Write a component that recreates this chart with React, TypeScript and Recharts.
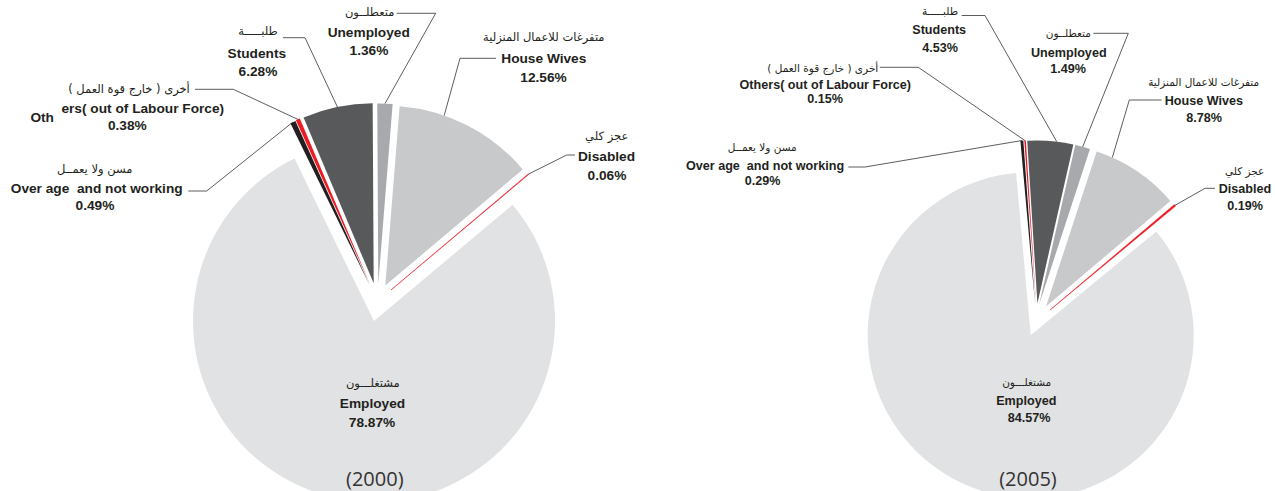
import React from 'react';
import { PieChart, Pie, Cell } from 'recharts';

// ---------- data ----------
const categories = [
  'Disabled',
  'House Wives',
  'Unemployed',
  'Students',
  'Others( out of Labour Force)',
  'Over age  and not working',
  'Employed',
];
const arabicNames = [
  'عجز كلي',
  'متفرغات للاعمال المنزلية',
  'متعطلــون',
  'طلبـــــة',
  'أخرى ( خارج قوة العمل )',
  'مسن ولا يعمــل',
  'مشتغلـــون',
];
const values2000 = [0.06, 12.56, 1.36, 6.28, 0.38, 0.49, 78.87];
const values2005 = [0.19, 8.78, 1.49, 4.53, 0.15, 0.29, 84.57];
const yearLabels = ['(2000)', '(2005)'];

// ---------- styles / layout ----------
const colors = ['#ed1c24', '#c8c9cb', '#a7a9ac', '#58595b', '#ed1c24', '#231f20', '#e1e2e3'];
const textColor = '#231f20';

type Pt = [number, number];
interface LabelCfg {
  ar?: Pt;
  en: Pt;
  pct: Pt;
  leader?: Pt[];
  anchorAngle?: number;
  split?: { n: number; at: Pt };
  year?: Pt;
}
interface ChartCfg {
  start: number;
  centers: Pt[];
  radii: number[];
  enSize: number;
  arSize: number;
  labels: LabelCfg[];
}

const cfg2000: ChartCfg = {
  start: 40,
  centers: [
    [391, 290],
    [385.3, 285.6],
    [378.3, 283.5],
    [373.7, 283.3],
    [370, 284.3],
    [369.5, 285],
    [374, 321],
  ],
  radii: [180, 180, 180, 180, 180, 180, 181],
  enSize: 13.7,
  arSize: 11.5,
  labels: [
    { ar: [606.7, 140], en: [606.5, 161], pct: [607, 180], leader: [[575, 155], [566.7, 155]] },
    { ar: [543.8, 41], en: [543.8, 63.3], pct: [543.5, 81.7], leader: [[496, 58.3], [460, 58.3]], anchorAngle: 70.9 },
    { ar: [369.7, 16], en: [368.7, 36.7], pct: [369, 55], leader: [[396.7, 13.3], [435.7, 13.3]] },
    { ar: [258, 35], en: [256.8, 57.7], pct: [258, 76], leader: [[283, 37.7], [305, 37.7]] },
    { ar: [129, 93], en: [142.8, 113.3], pct: [127.3, 130], leader: [[195, 89.3], [233.3, 89.3]], split: { n: 3, at: [42.2, 122.3] } },
    { ar: [94.7, 173.3], en: [96.7, 193.3], pct: [95, 210], leader: [[188.3, 191], [206.7, 191]] },
    { ar: [372.8, 387.3], en: [372.5, 408.3], pct: [372, 426.7], year: [374.8, 486] },
  ],
};

const cfg2005: ChartCfg = {
  start: 39.6,
  centers: [
    [1050, 310],
    [1046, 306.5],
    [1039.3, 304],
    [1037.4, 303.4],
    [1036, 303.3],
    [1035, 303],
    [1030.7, 335.3],
  ],
  radii: [163, 163, 163, 163, 163, 163, 163],
  enSize: 12.6,
  arSize: 10.5,
  labels: [
    { ar: [1244.7, 175], en: [1245, 193.3], pct: [1245, 210], leader: [[1215, 188.3], [1205, 188.3]] },
    { ar: [1203.7, 86], en: [1203.8, 105], pct: [1204, 121.7], leader: [[1161.7, 100], [1129.3, 100]], anchorAngle: 66 },
    { ar: [1068.3, 36.7], en: [1068.8, 56.7], pct: [1068, 73.3], leader: [[1093.3, 33.3], [1128.3, 33.3]] },
    { ar: [940, 15], en: [939.2, 34.3], pct: [940, 51.7], leader: [[961.7, 15.5], [985, 15.5]], anchorAngle: 83.2 },
    { ar: [822.8, 71.7], en: [825.3, 89.3], pct: [825, 103.3], leader: [[880, 67.3], [918.3, 67.3]] },
    { ar: [762.3, 151], en: [765, 170], pct: [762.5, 185], leader: [[848.3, 167], [865, 167]] },
    { ar: [1026.7, 386], en: [1026.3, 405], pct: [1029, 421.7], year: [1028, 486] },
  ],
};

const EN_FONT = '"Liberation Sans", Arial, sans-serif';
const AR_FONT = '"DejaVu Sans", "Liberation Sans", sans-serif';
const YEAR_FONT = '"Open Sans", sans-serif';

function makeLabel(cfg: ChartCfg, idx: number, values: number[], year: string) {
  return (props: any) => {
    if (props.index !== idx) return null;
    const L = cfg.labels[idx];
    const { cx, cy, outerRadius, midAngle } = props;
    const angDeg = L.anchorAngle ?? midAngle;
    const a = (angDeg * Math.PI) / 180;
    const ex = cx + outerRadius * Math.cos(a);
    const ey = cy - outerRadius * Math.sin(a);
    const name = categories[idx];
    const enMain = L.split ? name.slice(L.split.n) : name;
    const pts = L.leader ? [...L.leader, [ex, ey] as Pt] : null;
    return (
      <g>
        {pts && (
          <polyline
            points={pts.map((p) => `${p[0]},${p[1]}`).join(' ')}
            fill="none"
            stroke="#333333"
            strokeWidth={0.8}
          />
        )}
        {L.ar && (
          <text
            x={L.ar[0]}
            y={L.ar[1]}
            textAnchor="middle"
            direction="rtl"
            fontFamily={AR_FONT}
            fontSize={cfg.arSize}
            fill={textColor}
          >
            {arabicNames[idx]}
          </text>
        )}
        <text
          x={L.en[0]}
          y={L.en[1]}
          textAnchor="middle"
          fontFamily={EN_FONT}
          fontWeight="bold"
          fontSize={cfg.enSize}
          fill={textColor}
          style={{ whiteSpace: 'pre' }}
        >
          {enMain}
        </text>
        {L.split && (
          <text
            x={L.split.at[0]}
            y={L.split.at[1]}
            textAnchor="middle"
            fontFamily={EN_FONT}
            fontWeight="bold"
            fontSize={cfg.enSize}
            fill={textColor}
          >
            {name.slice(0, L.split.n)}
          </text>
        )}
        <text
          x={L.pct[0]}
          y={L.pct[1]}
          textAnchor="middle"
          fontFamily={EN_FONT}
          fontWeight="bold"
          fontSize={cfg.enSize}
          fill={textColor}
        >
          {`${values[idx].toFixed(2)}%`}
        </text>
        {L.year && (
          <text
            x={L.year[0]}
            y={L.year[1]}
            textAnchor="middle"
            fontFamily={YEAR_FONT}
            fontSize={20}
            fill="#333333"
          >
            {year}
          </text>
        )}
      </g>
    );
  };
}

function renderPies(cfg: ChartCfg, values: number[], year: string, keyPrefix: string) {
  const data = categories.map((name, i) => ({ name, value: values[i] }));
  return categories.map((_, idx) => (
    <Pie
      key={`${keyPrefix}-${idx}`}
      data={data}
      dataKey="value"
      nameKey="name"
      cx={cfg.centers[idx][0]}
      cy={cfg.centers[idx][1]}
      outerRadius={cfg.radii[idx]}
      innerRadius={0}
      startAngle={cfg.start}
      endAngle={cfg.start + 360}
      stroke="none"
      isAnimationActive={false}
      labelLine={false}
      label={makeLabel(cfg, idx, values, year)}
    >
      {data.map((d, j) => (
        <Cell
          key={`c-${j}`}
          fill={j === idx ? colors[j] : 'none'}
          stroke={j === idx && j === 0 ? colors[0] : 'none'}
          strokeWidth={j === idx && j === 0 ? 0.5 : 0}
        />
      ))}
    </Pie>
  ));
}

export default function App() {
  return (
    <div style={{ position: 'absolute', left: 0, top: 0, width: 1275, height: 491, background: '#ffffff' }}>
      <PieChart width={1275} height={491} margin={{ top: 0, right: 0, bottom: 0, left: 0 }}>
        {renderPies(cfg2000, values2000, yearLabels[0], 'y2000')}
        {renderPies(cfg2005, values2005, yearLabels[1], 'y2005')}
      </PieChart>
    </div>
  );
}
